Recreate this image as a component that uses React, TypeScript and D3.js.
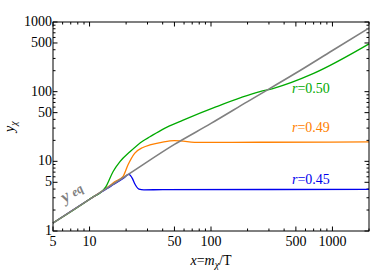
import React from "react";
import * as d3 from "d3";

const W = 373;
const H = 272;

const xTickLabels = [5, 10, 50, 100, 500, 1000];
const yTickLabels = [1, 5, 10, 50, 100, 500, 1000];

const eqX = [5, 10, 20, 50, 100, 200, 500, 1000, 2000];
const eqY = [1.3, 2.85, 6.2, 17.5, 35, 72, 185, 390, 820];

const greenX = [5, 10, 10.7, 12.2, 13.6, 15.6, 17.8, 21.5, 27.5, 31.4, 40, 59, 111, 253, 323, 700, 2000];
const greenY = [1.3, 2.85, 3.1, 3.5, 4.3, 7.1, 9.9, 13.7, 19.6, 22.5, 28.8, 39, 61, 100, 111, 183, 485];

const orangeX = [5, 10, 15, 16.1, 18.8, 20.7, 23.5, 27.5, 31.4, 40, 50, 81, 253, 2000];
const orangeY = [1.3, 2.85, 4.6, 5.1, 6.0, 8.85, 13.0, 15.8, 17.2, 18.9, 19.8, 18.7, 18.8, 19.0];

const blueX = [5, 10, 15, 19, 21, 22.5, 23.5, 25.5, 28, 40, 2000];
const blueY = [1.3, 2.85, 4.4, 5.7, 6.5, 5.7, 4.8, 4.0, 3.9, 3.92, 3.95];

const labels = [
  { text: "0.50", color: "#00aa00", y: 93 },
  { text: "0.49", color: "#ff8000", y: 132 },
  { text: "0.45", color: "#0000ee", y: 184 },
];

const M = { left: 53, right: 369, top: 22, bottom: 231 };
const FONT = "Liberation Serif, Times New Roman, serif";

export default function App() {
  const x = d3.scaleLog().domain([5, 2000]).range([M.left, M.right]);
  const y = d3.scaleLog().domain([1, 1000]).range([M.bottom, M.top]);

  const line = d3
    .line<[number, number]>()
    .x((d) => x(d[0]))
    .y((d) => y(d[1]))
    .curve(d3.curveMonotoneX);

  const zip = (a: number[], b: number[]) => a.map((v, i) => [v, b[i]] as [number, number]);

  const minorVals = (lo: number, hi: number) => {
    const out: number[] = [];
    for (let d = 1; d <= 1000; d *= 10) {
      for (let k = 1; k <= 9; k++) {
        const v = k * d;
        if (v >= lo && v <= hi) out.push(v);
      }
    }
    return out;
  };

  const xMinor = minorVals(5, 2000).filter((v) => !xTickLabels.includes(v));
  const yMinor = minorVals(1, 1000).filter((v) => !yTickLabels.includes(v));
  const maj = 4.5;
  const min = 2.5;
  const ts = { fontFamily: FONT };

  const ang = -34;

  return (
    <svg
      width={W}
      height={H}
      style={{ position: "absolute", left: 0, top: 0, background: "#fff", fontFamily: FONT }}
    >
      <rect x={0} y={0} width={W} height={H} fill="#fff" />
      <g stroke="#000" strokeWidth={1}>
        {xTickLabels.map((v) => (
          <g key={"xm" + v}>
            <line x1={x(v)} x2={x(v)} y1={M.bottom} y2={M.bottom - maj} />
            <line x1={x(v)} x2={x(v)} y1={M.top} y2={M.top + maj} />
          </g>
        ))}
        {xMinor.map((v) => (
          <g key={"xn" + v}>
            <line x1={x(v)} x2={x(v)} y1={M.bottom} y2={M.bottom - min} />
            <line x1={x(v)} x2={x(v)} y1={M.top} y2={M.top + min} />
          </g>
        ))}
        {yTickLabels.map((v) => (
          <g key={"ym" + v}>
            <line x1={M.left} x2={M.left + maj} y1={y(v)} y2={y(v)} />
            <line x1={M.right} x2={M.right - maj} y1={y(v)} y2={y(v)} />
          </g>
        ))}
        {yMinor.map((v) => (
          <g key={"yn" + v}>
            <line x1={M.left} x2={M.left + min} y1={y(v)} y2={y(v)} />
            <line x1={M.right} x2={M.right - min} y1={y(v)} y2={y(v)} />
          </g>
        ))}
      </g>

      <path d={line(zip(blueX, blueY)) || ""} fill="none" stroke="#0000ee" strokeWidth={1.3} />
      <path d={line(zip(orangeX, orangeY)) || ""} fill="none" stroke="#ff8000" strokeWidth={1.3} />
      <path d={line(zip(greenX, greenY)) || ""} fill="none" stroke="#00aa00" strokeWidth={1.3} />
      <path d={line(zip(eqX, eqY)) || ""} fill="none" stroke="#808080" strokeWidth={1.6} />

      <rect
        x={M.left}
        y={M.top}
        width={M.right - M.left}
        height={M.bottom - M.top}
        fill="none"
        stroke="#000"
        strokeWidth={1}
      />

      <g fontSize={14} fill="#000" style={ts}>
        {xTickLabels.map((v) => (
          <text key={"xl" + v} x={x(v)} y={M.bottom + 15} textAnchor="middle" style={ts}>
            {v}
          </text>
        ))}
        {yTickLabels.map((v) => (
          <text key={"yl" + v} x={M.left - 1} y={y(v) + 4} textAnchor="end" style={ts}>
            {v}
          </text>
        ))}
      </g>

      {labels.map((l) => (
        <text key={l.text} x={292} y={l.y} fontSize={14} fill={l.color} style={ts}>
          <tspan fontStyle="italic">r</tspan>=
          {l.text}
        </text>
      ))}

      <text
        transform={`translate(65,203) rotate(${ang})`}
        fontSize={17}
        fill="#808080"
        fontWeight="bold"
        fontStyle="italic"
        style={ts}
      >
        y
      </text>
      <text
        transform={`translate(74.5,197) rotate(${ang})`}
        fontSize={12.5}
        fill="#808080"
        fontWeight="bold"
        fontStyle="italic"
        style={ts}
      >
        eq
      </text>

      <g transform="translate(14,132) rotate(-90)">
        <text x={0} y={0} fontSize={14} fill="#000" style={ts}>
          <tspan fontStyle="italic">y</tspan>
          <tspan fontStyle="italic" fontSize={10} dy={3}>
            χ
          </tspan>
        </text>
      </g>

      <text x={211} y={265} fontSize={14} textAnchor="middle" fill="#000" style={ts}>
        <tspan fontStyle="italic">x</tspan>=<tspan fontStyle="italic">m</tspan>
        <tspan fontStyle="italic" fontSize={10} dy={3}>
          χ
        </tspan>
        <tspan dy={-3}>/T</tspan>
      </text>
    </svg>
  );
}
